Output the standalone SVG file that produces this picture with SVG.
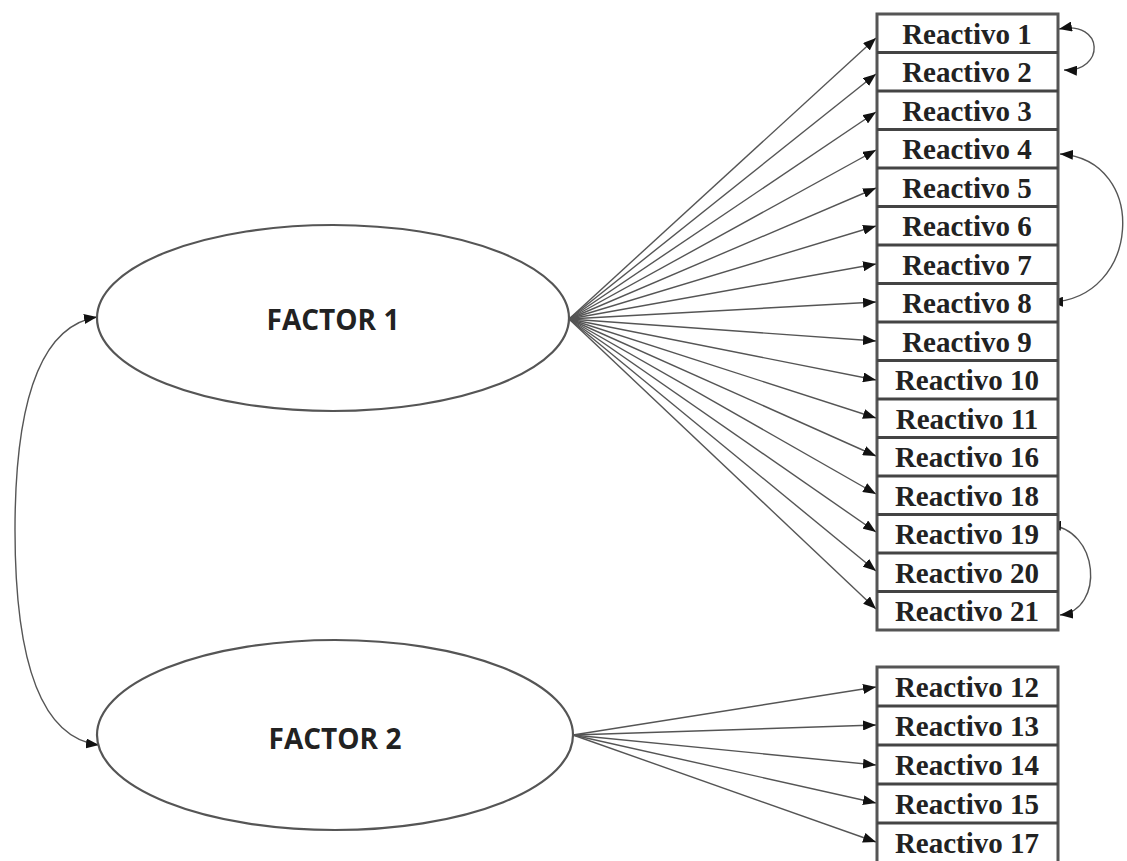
<svg xmlns="http://www.w3.org/2000/svg" width="1127" height="861" viewBox="0 0 1127 861">
<defs>
<style>
.ell{fill:#fff;stroke:#555;stroke-width:2.2}
.fac{font-family:"Open Sans","Liberation Sans",sans-serif;font-weight:700;font-size:28px;fill:#222;text-anchor:middle}
.box{fill:#fff;stroke:#555;stroke-width:3}
.div{stroke:#444;stroke-width:3}
.lbl{font-family:"Liberation Serif","DejaVu Serif",serif;font-weight:700;font-size:29px;fill:#222;text-anchor:middle}
.cn{fill:none;stroke:#555;stroke-width:1.4}
</style>
<marker id="ah" viewBox="0 0 13 10" refX="13" refY="5" markerWidth="13" markerHeight="10" markerUnits="userSpaceOnUse" orient="auto-start-reverse">
<path d="M0,0 L13,5 L0,10 z" fill="#111"/>
</marker>
</defs>
<rect width="1127" height="861" fill="#fff"/>

<g id="connectors">
<path class="cn" d="M97,317 Q15,330 15,530 Q15,735 99,745" marker-start="url(#ah)" marker-end="url(#ah)"/>
<g marker-end="url(#ah)">
<line class="cn" x1="569" y1="319" x2="876" y2="38"/>
<line class="cn" x1="569" y1="319" x2="876" y2="74"/>
<line class="cn" x1="569" y1="319" x2="876" y2="112"/>
<line class="cn" x1="569" y1="319" x2="876" y2="150"/>
<line class="cn" x1="569" y1="319" x2="876" y2="188"/>
<line class="cn" x1="569" y1="319" x2="876" y2="226"/>
<line class="cn" x1="569" y1="319" x2="876" y2="264"/>
<line class="cn" x1="569" y1="319" x2="876" y2="302"/>
<line class="cn" x1="569" y1="319" x2="876" y2="341"/>
<line class="cn" x1="569" y1="319" x2="876" y2="380"/>
<line class="cn" x1="569" y1="319" x2="876" y2="418"/>
<line class="cn" x1="569" y1="319" x2="876" y2="456"/>
<line class="cn" x1="569" y1="319" x2="876" y2="494"/>
<line class="cn" x1="569" y1="319" x2="876" y2="532"/>
<line class="cn" x1="569" y1="319" x2="876" y2="571"/>
<line class="cn" x1="569" y1="319" x2="876" y2="609"/>
<line class="cn" x1="573" y1="735" x2="876" y2="687"/>
<line class="cn" x1="573" y1="735" x2="876" y2="725"/>
<line class="cn" x1="573" y1="735" x2="876" y2="765"/>
<line class="cn" x1="573" y1="735" x2="876" y2="803"/>
<line class="cn" x1="573" y1="735" x2="876" y2="842"/>
</g>
<path class="cn" d="M1059,29 C1105,20 1105,72 1064,70" marker-start="url(#ah)" marker-end="url(#ah)"/>
<path class="cn" d="M1060,154 C1150,160 1140,300 1050,302" marker-start="url(#ah)" marker-end="url(#ah)"/>
<path class="cn" d="M1048,525 C1100,528 1105,610 1060,615" marker-start="url(#ah)" marker-end="url(#ah)"/>
</g>

<g id="factor1">
<ellipse class="ell" cx="333" cy="318" rx="236" ry="93"/>
<text class="fac" x="333" y="330">FACTOR 1</text>
</g>
<g id="factor2">
<ellipse class="ell" cx="335" cy="735" rx="238" ry="95"/>
<text class="fac" x="335" y="749">FACTOR 2</text>
</g>

<g id="items1">
<rect class="box" x="877" y="14" width="181" height="616"/>
<g class="div">
<line x1="877" y1="52.5" x2="1058" y2="52.5"/>
<line x1="877" y1="91" x2="1058" y2="91"/>
<line x1="877" y1="129.5" x2="1058" y2="129.5"/>
<line x1="877" y1="168" x2="1058" y2="168"/>
<line x1="877" y1="206.5" x2="1058" y2="206.5"/>
<line x1="877" y1="245" x2="1058" y2="245"/>
<line x1="877" y1="283.5" x2="1058" y2="283.5"/>
<line x1="877" y1="322" x2="1058" y2="322"/>
<line x1="877" y1="360.5" x2="1058" y2="360.5"/>
<line x1="877" y1="399" x2="1058" y2="399"/>
<line x1="877" y1="437.5" x2="1058" y2="437.5"/>
<line x1="877" y1="476" x2="1058" y2="476"/>
<line x1="877" y1="514.5" x2="1058" y2="514.5"/>
<line x1="877" y1="553" x2="1058" y2="553"/>
<line x1="877" y1="591.5" x2="1058" y2="591.5"/>
</g>
</g>
<g id="r1"><text class="lbl" x="967" y="44">Reactivo 1</text></g>
<g id="r2"><text class="lbl" x="967" y="82">Reactivo 2</text></g>
<g id="r3"><text class="lbl" x="967" y="121">Reactivo 3</text></g>
<g id="r4"><text class="lbl" x="967" y="159">Reactivo 4</text></g>
<g id="r5"><text class="lbl" x="967" y="198">Reactivo 5</text></g>
<g id="r6"><text class="lbl" x="967" y="236">Reactivo 6</text></g>
<g id="r7"><text class="lbl" x="967" y="275">Reactivo 7</text></g>
<g id="r8"><text class="lbl" x="967" y="313">Reactivo 8</text></g>
<g id="r9"><text class="lbl" x="967" y="352">Reactivo 9</text></g>
<g id="r10"><text class="lbl" x="967" y="390">Reactivo 10</text></g>
<g id="r11"><text class="lbl" x="967" y="429">Reactivo 11</text></g>
<g id="r16"><text class="lbl" x="967" y="467">Reactivo 16</text></g>
<g id="r18"><text class="lbl" x="967" y="506">Reactivo 18</text></g>
<g id="r19"><text class="lbl" x="967" y="544">Reactivo 19</text></g>
<g id="r20"><text class="lbl" x="967" y="583">Reactivo 20</text></g>
<g id="r21"><text class="lbl" x="967" y="621">Reactivo 21</text></g>

<g id="items2">
<rect class="box" x="877" y="667" width="181" height="196"/>
<g class="div">
<line x1="877" y1="706" x2="1058" y2="706"/>
<line x1="877" y1="745" x2="1058" y2="745"/>
<line x1="877" y1="784" x2="1058" y2="784"/>
<line x1="877" y1="823" x2="1058" y2="823"/>
</g>
</g>
<g id="r12"><text class="lbl" x="967" y="697">Reactivo 12</text></g>
<g id="r13"><text class="lbl" x="967" y="736">Reactivo 13</text></g>
<g id="r14"><text class="lbl" x="967" y="775">Reactivo 14</text></g>
<g id="r15"><text class="lbl" x="967" y="814">Reactivo 15</text></g>
<g id="r17"><text class="lbl" x="967" y="853">Reactivo 17</text></g>
</svg>
